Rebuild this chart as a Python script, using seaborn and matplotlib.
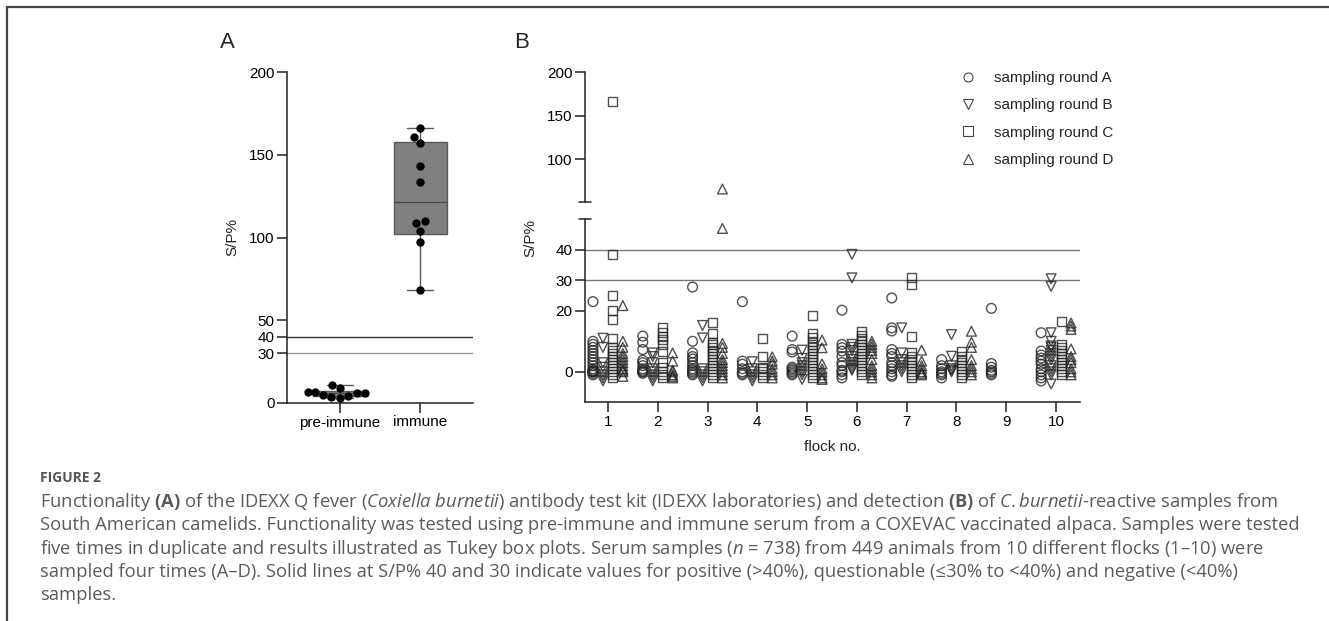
import numpy as np
import pandas as pd
import matplotlib
matplotlib.use("Agg")
import matplotlib.pyplot as plt
import seaborn as sns
from matplotlib.lines import Line2D

# ---- panel A: S/P% of pre-immune / immune serum ----
groups_a = ["pre-immune", "immune"]
pre_immune = [8.9, 4.2, 6.5, 6.2, 10.7, 6.0, 3.2, 6.6, 3.4, 5.0]
immune = [166, 160.5, 157, 143, 133.5, 110, 108.5, 104, 97, 68]

# ---- panel B: S/P% per flock (1-10) and sampling round ----
flocks = [str(i) for i in range(1, 11)]
rounds = ["sampling round A", "sampling round B", "sampling round C", "sampling round D"]
round_a = [
    [23, 10, 9, 8, 7, 6, 5, 4, 3, 2, 1, 0.5, 0, 0, -0.5, -1, 0.3],
    [11.7, 9.7, 7.3, 3.8, 3, 2, 1, 0.5, 0, 0, -0.5],
    [27.8, 10, 6.2, 5, 4.2, 3, 2, 1, 0.5, 0, -0.5, -1],
    [23, 3.5, 2.5, 1, 0, -0.5, -1],
    [11.7, 7.3, 6.5, 1.5, 1, 0.5, 0, -0.5, -1],
    [20.2, 9, 7.9, 6.8, 5, 3, 2, 0.5, 0, -1, -2],
    [24.2, 14.4, 13.4, 7.3, 6, 5, 3, 2, 1, 0, -1, -1.5],
    [4, 2, 1, 0, -0.5, -1, -2],
    [20.8, 2.7, 1.5, 0.5, 0, -0.5, -1],
    [12.8, 6.8, 5.5, 4.5, 3.5, 2.5, 1, 0, -1, -2, -3],
]
round_b = [
    [11, 8, 3, 1.5, 0, -1, -2, -3],
    [6.2, 5, 3, 1, 0, -1, -2, -3],
    [15.2, 11.1, 1, 0, -1, -2, -3],
    [3.3, 1, 0, -1, -2, -3],
    [7.1, 4.4, 3, 2, 1, 0, -1, -2.5],
    [38.5, 30.8, 9, 8, 7, 5, 4, 3, 2, 1, 0.5],
    [14.4, 6.2, 4, 3, 2, 1, 0],
    [12.2, 5.1, 2, 1, 0.5, 0],
    [],
    [30.5, 28, 12.8, 10, 8.5, 8, 7, 6, 5, 4, 2, 1, 0, -1, -4],
]
round_c = [
    [166, 38.5, 25, 20, 17, 11, 8, 7, 6, 5, 4, 3, 2, 1, 0, -1, -2],
    [14.4, 12.8, 11.5, 10.6, 9, 6.8, 3, 1.5, 0, -1, -2],
    [16.3, 12.6, 9.7, 9, 8, 7, 6, 5, 4, 3, 2, 1, 0, -1, -2],
    [10.8, 4.9, 1.5, 1, 0, -1, -2],
    [18.5, 12.6, 11.1, 10, 9, 8, 7, 6, 5, 4, 3, 2, 1, 0, -1, -2],
    [13.3, 12, 11, 10, 9, 8, 7, 6, 5, 4, 3, 2, 1, 0, -1],
    [30.8, 28.6, 11.5, 6.2, 5, 4, 3, 2, 1, 0, -1, -2],
    [6.8, 5, 4, 3, 2, 1, 0, -1, -2],
    [],
    [16.4, 9, 8, 7, 6, 5, 4, 3, 2, 1, 0, -1],
]
round_d = [
    [21.7, 10, 8, 6, 5, 4, 3, 2, 1, 0.5, 0, -1.5],
    [6.2, 3.5, 0.5, 0, -1, -1.5, -2],
    [66, 47, 9.3, 8, 6, 4, 3, 2, 1, 0, -1, -2],
    [4.9, 3.5, 2.5, 1, 0, -1, -2],
    [10.4, 7.9, 2.6, 1, 0, -1, -2, -2.5],
    [10, 9, 8, 7, 6, 4, 2, 1, 0, -1, -2],
    [7.1, 3.5, 2, 1, 0, -0.5, -1],
    [13.3, 9.7, 8, 4, 2, 1, 0, -1],
    [],
    [16, 15, 13.9, 7.5, 5, 4, 3, 1, 0, -1],
]
markers = ["o", "v", "s", "^"]

caption = [
    r"Functionality $\mathbf{(A)}$ of the IDEXX Q fever ($\mathit{Coxiella}$ $\mathit{burnetii}$) antibody test kit (IDEXX laboratories) and detection $\mathbf{(B)}$ of $\mathit{C.burnetii}$-reactive samples from",
    "South American camelids. Functionality was tested using pre-immune and immune serum from a COXEVAC vaccinated alpaca. Samples were tested",
    r"five times in duplicate and results illustrated as Tukey box plots. Serum samples ($\mathit{n}$ = 738) from 449 animals from 10 different flocks (1–10) were",
    "sampled four times (A–D). Solid lines at S/P% 40 and 30 indicate values for positive (>40%), questionable (≤30% to <40%) and negative (<40%)",
    "samples.",
]

dfA = pd.DataFrame({"group": ["pre-immune"] * len(pre_immune) + ["immune"] * len(immune),
                    "sp": pre_immune + immune})
rows = []
for rnd, data in zip(rounds, [round_a, round_b, round_c, round_d]):
    for fl, vals in zip(flocks, data):
        for v in vals:
            rows.append((fl, rnd, v))
dfB = pd.DataFrame(rows, columns=["flock", "round", "sp"])

sns.set_theme(style="ticks")
plt.rcParams["font.family"] = ["Liberation Sans", "DejaVu Sans"]
plt.rcParams["mathtext.fontset"] = "custom"
plt.rcParams["mathtext.rm"] = "Open Sans"
plt.rcParams["mathtext.it"] = "Open Sans:italic"
plt.rcParams["mathtext.bf"] = "Open Sans:bold"

W, H = 1329, 621
fig = plt.figure(figsize=(W / 100, H / 100), dpi=100)


def box(l, t, r, b):
    return [l / W, 1 - b / H, (r - l) / W, (b - t) / H]


spine_c = "#222222"


def style_ax(ax):
    for s in ax.spines.values():
        s.set_color(spine_c)
        s.set_linewidth(1.1)
    ax.tick_params(length=7, width=1.1, color=spine_c, labelsize=11, pad=2, labelcolor="black")
    ax.set_xlabel("")
    ax.set_ylabel("")


def tukey(vals):
    v = np.asarray(vals, dtype=float)
    q1, med, q3 = np.percentile(v, [25, 50, 75], method="weibull")
    iqr = q3 - q1
    return dict(med=med, q1=q1, q3=q3,
                whislo=v[v >= q1 - 1.5 * iqr].min(),
                whishi=v[v <= q3 + 1.5 * iqr].max(), fliers=[])


# ---------------- panel A ----------------
axA = fig.add_axes(box(287, 72, 473, 403))
axA.axhline(40, color="#333333", lw=1, zorder=0)
axA.axhline(30, color="#9a9a9a", lw=1, zorder=0)
axA.bxp([tukey(pre_immune), tukey(immune)], positions=[0, 1], widths=0.66, capwidths=0.33,
        patch_artist=True, showfliers=False, manage_ticks=False,
        boxprops=dict(facecolor="#808080", edgecolor="#595959", linewidth=1),
        medianprops=dict(color="#4a4a4a", linewidth=1),
        whiskerprops=dict(color="#595959", linewidth=1),
        capprops=dict(color="#595959", linewidth=1), zorder=1)
sns.swarmplot(data=dfA, x="group", y="sp", order=groups_a, color="black", size=6,
              ax=axA, zorder=3)
axA.set_xlim(-0.66, 1.66)
axA.set_ylim(0, 200)
axA.set_yticks([0, 30, 40, 50, 100, 150, 200])
axA.set_xticks([0, 1])
axA.set_xticklabels(groups_a)
sns.despine(ax=axA)
style_ax(axA)

# ---------------- panel B (broken y axis) ----------------
axBu = fig.add_axes(box(585, 72, 1080, 201.7))
axBl = fig.add_axes(box(585, 219.3, 1080, 402.3))
for ax, part in ((axBu, dfB[dfB["sp"] > 50]), (axBl, dfB[dfB["sp"] <= 50])):
    for rnd, mk in zip(rounds, markers):
        n0 = len(ax.collections)
        sns.stripplot(data=part[part["round"] == rnd], x="flock", y="sp", hue="round",
                      hue_order=rounds, order=flocks, dodge=True, jitter=False,
                      marker=mk, size=7 if mk != "s" else 6.5, palette=["k"] * 4,
                      linewidth=1.0, edgecolor="k", legend=False, ax=ax, zorder=3)
        for c in ax.collections[n0:]:
            c.set_facecolor("none")
            c.set_edgecolor("#262626")
            c.set_alpha(0.8)
    ax.set_xlim(-0.46, 9.48)
    style_ax(ax)

axBl.axhline(40, color="#777777", lw=1, zorder=0)
axBl.axhline(30, color="#777777", lw=1, zorder=0)
axBl.set_ylim(-10, 50)
axBl.set_yticks([0, 20, 30, 40])
axBl.set_xticks(range(10))
axBl.set_xticklabels(flocks)
sns.despine(ax=axBl)
axBl.plot([-0.013, 0.013], [1, 1], transform=axBl.transAxes, color=spine_c, lw=1.1, clip_on=False)

axBu.set_ylim(51.5, 200)
axBu.set_yticks([100, 150, 200])
axBu.set_xticks([])
sns.despine(ax=axBu, bottom=True)
axBu.plot([-0.013, 0.013], [0, 0], transform=axBu.transAxes, color=spine_c, lw=1.1, clip_on=False)

handles = [Line2D([], [], marker=m, linestyle="none", markersize=6.5, markerfacecolor="none",
                  markeredgecolor="#444444", markeredgewidth=0.8) for m in markers]
fig.legend(handles, rounds, loc="upper left", bbox_to_anchor=(963 / W, 1 - 71 / H),
           frameon=False, fontsize=11, handlelength=0.6, handletextpad=1.45,
           labelspacing=0.87, borderpad=0, borderaxespad=0)

# ---------------- labels ----------------
fig.text(227 / W, 1 - 43 / H, "A", fontsize=16, ha="center", va="center")
fig.text(522 / W, 1 - 43 / H, "B", fontsize=16, ha="center", va="center")
fig.text(232 / W, 1 - 237 / H, "S/P%", fontsize=11, rotation=90, ha="center", va="center")
fig.text(530 / W, 1 - 238 / H, "S/P%", fontsize=11, rotation=90, ha="center", va="center")
fig.text(832 / W, 1 - 447 / H, "flock no.", fontsize=11, ha="center", va="center")

# caption
cap_font = ["Open Sans", "DejaVu Sans"]
fig.text(40 / W, 1 - 478 / H, "FIGURE 2", fontsize=10, fontweight="bold", color="#555555",
         family=cap_font, ha="left", va="center")
cap_texts = []
for i, line in enumerate(caption):
    t = fig.text(40 / W, 1 - (502 + i * 23.3) / H, line, fontsize=10.5, color="#5a5b5e",
                 family=cap_font, ha="left", va="center")
    cap_texts.append(t)
# scale caption so that the first line spans the same width as in the original
renderer = fig.canvas.get_renderer()
w1 = cap_texts[0].get_window_extent(renderer).width
scale = (1283 - 40) / w1
for t in cap_texts:
    t.set_fontsize(10.5 * scale)

# frame lines (top and left)
fig.add_artist(Line2D([7 / W, 1], [1 - 7 / H, 1 - 7 / H], color="#444444", lw=1.6))
fig.add_artist(Line2D([7 / W, 7 / W], [0, 1 - 7 / H], color="#444444", lw=1.6))

fig.savefig("out.png", dpi=100)
